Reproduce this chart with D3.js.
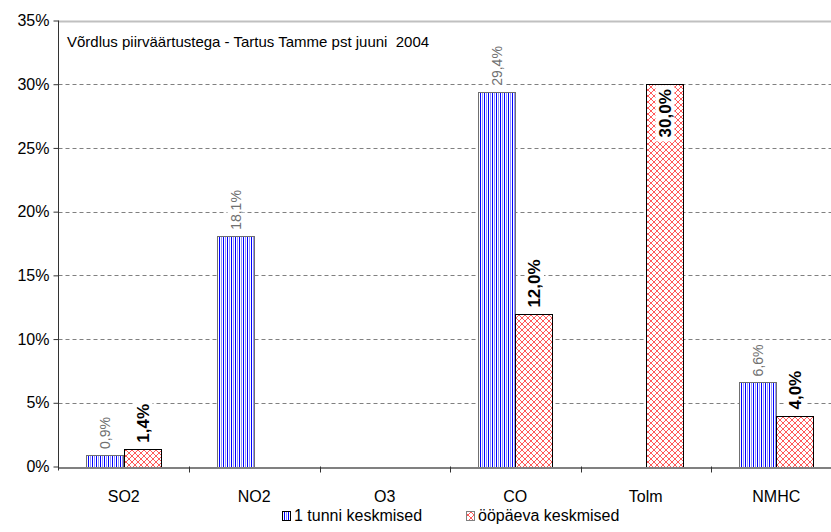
<!DOCTYPE html>
<html>
<head>
<meta charset="utf-8">
<script src="https://cdn.jsdelivr.net/npm/d3@7"></script>
<style>
  body { margin: 0; background: #fff; }
  svg { display: block; font-family: "Liberation Sans", Arial, sans-serif; }
</style>
</head>
<body>
<div id="chart"></div>
<script>
// Chart size
const width = 831;
const height = 532;

// Data
const categories = ["SO2", "NO2", "O3", "CO", "Tolm", "NMHC"];
const seriesNames = ["1 tunni keskmised", "ööpäeva keskmised"];
const hourValues = [0.9, 18.1, null, 29.4, null, 6.6];
const dayValues = [1.4, null, null, 12.0, 30.0, 4.0];
const yTicks = [0, 5, 10, 15, 20, 25, 30, 35];
const title = "Võrdlus piirväärtustega - Tartus Tamme pst juuni  2004";

const svg = d3.select("#chart")
  .append("svg")
  .attr("width", width)
  .attr("height", height);

// Red cross-hatch pattern
const defs = svg.append("defs");
const pRed = defs.append("pattern")
  .attr("id", "pRed")
  .attr("patternUnits", "userSpaceOnUse")
  .attr("width", 6).attr("height", 6);
pRed.append("rect").attr("width", 6).attr("height", 6).attr("fill", "#fff");
pRed.append("path").attr("d", "M0,0L6,6M6,0L0,6M-1,5L1,7M5,-1L7,1M-1,1L1,-1M5,7L7,5")
  .attr("stroke", "#ff5a5a").attr("stroke-width", 1).attr("fill", "none");

// Blue vertical stripes drawn as lines inside a box
function stripes(g, x0, y0, w, h) {
  g.append("rect")
    .attr("x", x0).attr("y", y0).attr("width", w).attr("height", h)
    .attr("fill", "#fff");
  g.append("g")
    .selectAll("line")
    .data(d3.range(x0 + 2, x0 + w - 0.5, 4))
    .enter()
    .append("line")
      .attr("x1", d => d).attr("x2", d => d)
      .attr("y1", y0).attr("y2", y0 + h)
      .attr("stroke", "#0000ff")
      .attr("stroke-width", 1);
  g.append("g")
    .selectAll("line")
    .data(d3.range(x0 + 4, x0 + w - 0.5, 4))
    .enter()
    .append("line")
      .attr("x1", d => d).attr("x2", d => d)
      .attr("y1", y0).attr("y2", y0 + h)
      .attr("stroke", "#9090ff")
      .attr("stroke-width", 1);
}

// Scales
const x = d3.scaleBand()
  .domain(categories)
  .range([58.5, 841.5]);

const xSub = d3.scaleBand()
  .domain([0, 1])
  .range([0, x.bandwidth()])
  .paddingOuter(0.74);

const y = d3.scaleLinear()
  .domain([0, 35])
  .range([466.5, 20.5]);

// Gridlines
svg.append("g")
  .selectAll("line")
  .data(yTicks.filter(t => t > 0 && t < 35))
  .enter()
  .append("line")
    .attr("x1", 58.5).attr("x2", width)
    .attr("y1", d => Math.round(y(d)) + 0.5)
    .attr("y2", d => Math.round(y(d)) + 0.5)
    .attr("stroke", "#808080")
    .attr("stroke-dasharray", "4,3");

// Top border line
svg.append("line")
  .attr("x1", 58.5).attr("x2", width)
  .attr("y1", Math.round(y(35)) + 0.5).attr("y2", Math.round(y(35)) + 0.5)
  .attr("stroke", "#c0c0c0").attr("stroke-width", 2);

// Bars
const rows = categories.map((c, i) => ({cat: c, vals: [hourValues[i], dayValues[i]]}));
const bars = [];
rows.forEach(r => r.vals.forEach((v, s) => { if (v != null) bars.push({cat: r.cat, s: s, v: v}); }));

const barW = Math.round(xSub.bandwidth()) - 1;
const barG = svg.append("g");
bars.forEach(d => {
  const bx = Math.round(x(d.cat) + xSub(d.s)) + 0.5;
  const by = Math.round(y(d.v)) + 0.5;
  const bh = Math.round(y(0)) - Math.round(y(d.v));
  const g = barG.append("g");
  if (d.s === 0) stripes(g, bx, by, barW, bh);
  g.append("rect")
    .attr("x", bx).attr("y", by)
    .attr("width", barW).attr("height", bh)
    .attr("fill", d.s === 0 ? "none" : "url(#pRed)")
    .attr("stroke", d.s === 0 ? "#707070" : "#000")
    .attr("stroke-width", 1);
});

// Value labels (rotated)
const fmt = v => v.toFixed(1).replace(".", ",") + "%";
const labels = svg.append("g");
bars.forEach(d => {
  const cx = x(d.cat) + xSub(d.s) + xSub.bandwidth() / 2;
  const inside = d.v >= 29.9 && d.s === 1;
  const top = y(d.v);
  const g = labels.append("g");
  const t = g.append("text")
    .attr("transform", `translate(${cx + (d.s === 0 ? 5 : 6)},${inside ? top + 5 : top - 6}) rotate(-90)`)
    .attr("text-anchor", inside ? "end" : "start")
    .attr("font-size", d.s === 0 ? "14px" : "17px")
    .attr("font-weight", d.s === 0 ? "normal" : "bold")
    .attr("fill", d.s === 0 ? "#707070" : "#000")
    .text(fmt(d.v));
  const bb = t.node().getBBox();
  // background box in rotated coords
  g.insert("rect", "text")
    .attr("transform", t.attr("transform"))
    .attr("x", bb.x - 4).attr("y", bb.y)
    .attr("width", bb.width + 8).attr("height", bb.height)
    .attr("fill", "#fff");
});

// Y axis
const yAxis = svg.append("g")
  .attr("transform", "translate(58.5,0)")
  .call(d3.axisLeft(y).tickValues(yTicks).tickFormat(d => d + "%").tickSize(5).tickSizeOuter(0));
yAxis.select(".domain").attr("stroke", "#333").attr("d", `M0,${y(35)}V${y(0) + 4}`);
yAxis.selectAll(".tick line").attr("stroke", "#333");
yAxis.selectAll(".tick text")
  .attr("font-size", "16px")
  .attr("font-family", "Liberation Sans, Arial, sans-serif")
  .attr("fill", "#000")
  .attr("x", -9);

// X axis
const xAxis = svg.append("g")
  .attr("transform", `translate(0,${Math.round(y(0)) + 0.5})`)
  .call(d3.axisBottom(x).tickSize(0).tickSizeOuter(0));
xAxis.select(".domain").attr("stroke", "#808080").attr("stroke-width", 2);
xAxis.selectAll(".tick text")
  .attr("font-size", "16px")
  .attr("font-family", "Liberation Sans, Arial, sans-serif")
  .attr("fill", "#000")
  .attr("dy", 0)
  .attr("y", 34);

// Category separator ticks
svg.append("g")
  .selectAll("line")
  .data(categories.slice(1))
  .enter()
  .append("line")
    .attr("x1", d => Math.round(x(d)) + 0.5)
    .attr("x2", d => Math.round(x(d)) + 0.5)
    .attr("y1", y(0)).attr("y2", y(0) + 6)
    .attr("stroke", "#333");

// Title
svg.append("text")
  .attr("x", 67).attr("y", 47)
  .attr("font-size", "15px")
  .style("white-space", "pre")
  .attr("fill", "#000")
  .text(title);

// Legend
const legend = svg.append("g").attr("transform", "translate(0,521)");
const legX = [282, 466];
seriesNames.forEach((n, i) => {
  const lg = legend.append("g");
  if (i === 0) stripes(lg, legX[i] + 0.5, -9.5, 8, 9);
  lg.append("rect")
    .attr("x", legX[i] + 0.5).attr("y", -9.5)
    .attr("width", 8).attr("height", 9)
    .attr("fill", i === 0 ? "none" : "url(#pRed)")
    .attr("stroke", i === 0 ? "#000" : "#808080");
  legend.append("text")
    .attr("x", legX[i] + 12).attr("y", 0)
    .attr("font-size", "16px")
    .attr("fill", "#000")
    .text(n);
});
</script>
</body>
</html>
